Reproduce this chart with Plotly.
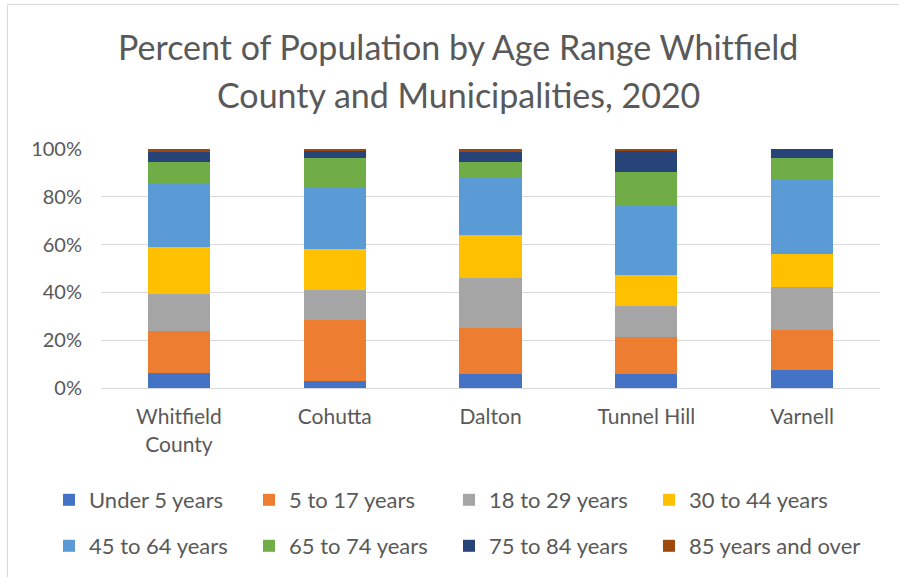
import plotly.graph_objects as go

categories = ["Whitfield<br>County", "Cohutta", "Dalton", "Tunnel Hill", "Varnell"]

under_5 = [6.2, 3.1, 5.9, 5.9, 7.6]
age_5_17 = [17.5, 25.2, 19.3, 15.5, 16.5]
age_18_29 = [15.7, 12.4, 20.7, 12.7, 18.2]
age_30_44 = [19.3, 17.1, 17.8, 13.1, 13.7]
age_45_64 = [27.0, 25.9, 23.8, 28.8, 31.3]
age_65_74 = [8.7, 12.3, 6.6, 14.1, 8.5]
age_75_84 = [4.1, 3.1, 4.3, 8.8, 3.8]
age_85_plus = [1.3, 0.6, 1.3, 0.6, 0.0]

series_names = ["Under 5 years", "5 to 17 years", "18 to 29 years", "30 to 44 years",
                "45 to 64 years", "65 to 74 years", "75 to 84 years", "85 years and over"]
series_values = [under_5, age_5_17, age_18_29, age_30_44, age_45_64, age_65_74, age_75_84, age_85_plus]
colors = ["#4472C4", "#ED7D31", "#A5A5A5", "#FFC000", "#5B9BD5", "#70AD47", "#264478", "#9E480E"]

FONT = "Lato, Calibri, Arial, sans-serif"
TXT = "#595959"

W, H = 899, 577
L, R, T, B = 101, 19, 149, 189
pw = W - L - R
ph = H - T - B

def px_x(x):
    return (x - L) / pw

def px_y(y):
    return (H - B - y) / ph

legend_cols = [49, 249, 449, 649]
legend_rows = [500, 546]

fig = go.Figure()
legend_layout = {}
for i, (name, vals, col) in enumerate(zip(series_names, series_values, colors)):
    key = "legend" if i == 0 else f"legend{i + 1}"
    fig.add_trace(go.Bar(
        x=categories, y=vals, name=name,
        marker=dict(color=col, line=dict(width=0)),
        legend=key, showlegend=True,
    ))
    legend_layout[key] = dict(
        orientation="h", xanchor="left", yanchor="middle", visible=True,
        x=px_x(legend_cols[i % 4]), y=px_y(legend_rows[i // 4]),
        font=dict(family=FONT, size=22, color=TXT),
        bgcolor="rgba(0,0,0,0)",
    )

fig.update_layout(
    width=W, height=H, showlegend=True,
    margin=dict(l=L, r=R, t=T, b=B, autoexpand=False),
    barmode="stack", barnorm="fraction", bargap=0.6,
    paper_bgcolor="white", plot_bgcolor="white",
    font=dict(family=FONT, color=TXT),
    xaxis=dict(
        showgrid=False, showline=True, linecolor="#d9d9d9", linewidth=1,
        ticks="", tickfont=dict(family=FONT, size=21, color=TXT),
        ticklabelstandoff=10,
    ),
    yaxis=dict(
        range=[0, 1], dtick=0.2, tickformat=".0%",
        showgrid=True, gridcolor="#d9d9d9", gridwidth=1,
        zeroline=False, showline=False, ticks="",
        tickfont=dict(family=FONT, size=20, color=TXT),
        ticklabelstandoff=18,
    ),
    annotations=[
        dict(text="Percent of Population by Age Range Whitfield", xref="paper", yref="paper",
             x=px_x(458), y=px_y(46.5), xanchor="center", yanchor="middle", showarrow=False,
             font=dict(family=FONT, size=34, color=TXT)),
        dict(text="County and Municipalities, 2020", xref="paper", yref="paper",
             x=px_x(458), y=px_y(94), xanchor="center", yanchor="middle", showarrow=False,
             font=dict(family=FONT, size=34, color=TXT)),
    ],
    shapes=[
        dict(type="rect", xref="paper", yref="paper", layer="below",
             x0=px_x(7.5), x1=px_x(W + 10), y0=px_y(H + 10), y1=px_y(4.5),
             line=dict(color="#d9d9d9", width=1), fillcolor="rgba(0,0,0,0)"),
    ],
    **legend_layout,
)

fig.write_html("out.html", config={"displayModeBar": False},
               post_script="document.body.style.margin='0';")
